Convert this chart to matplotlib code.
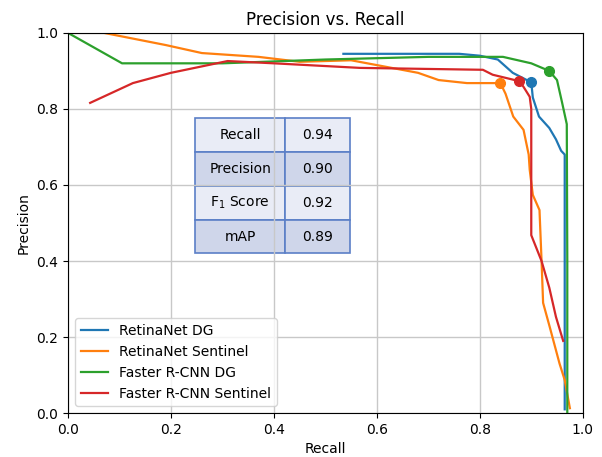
import matplotlib
matplotlib.use("Agg")
import matplotlib.pyplot as plt

# curve points (recall, precision)
retina_dg_r = [0.535, 0.76, 0.80, 0.835, 0.864, 0.90, 0.903, 0.915, 0.935, 0.948, 0.958, 0.965, 0.965, 0.965]
retina_dg_p = [0.945, 0.945, 0.94, 0.93, 0.895, 0.87, 0.83, 0.78, 0.75, 0.72, 0.69, 0.68, 0.3, 0.01]

retina_sen_r = [0.0, 0.07, 0.19, 0.26, 0.37, 0.45, 0.55, 0.68, 0.72, 0.775, 0.84, 0.85, 0.865, 0.885, 0.895, 0.897, 0.903, 0.916, 0.92, 0.923, 0.936, 0.955, 0.965, 0.975]
retina_sen_p = [1.0, 1.0, 0.968, 0.947, 0.937, 0.924, 0.928, 0.895, 0.876, 0.868, 0.868, 0.84, 0.78, 0.745, 0.68, 0.64, 0.574, 0.534, 0.40, 0.29, 0.226, 0.13, 0.087, 0.013]

frcnn_dg_r = [0.0, 0.105, 0.30, 0.50, 0.70, 0.845, 0.90, 0.935, 0.95, 0.96, 0.969, 0.97, 0.97]
frcnn_dg_p = [1.0, 0.92, 0.92, 0.93, 0.937, 0.937, 0.92, 0.90, 0.876, 0.816, 0.76, 0.40, 0.0]

frcnn_sen_r = [0.043, 0.126, 0.20, 0.31, 0.40, 0.567, 0.806, 0.825, 0.877, 0.885, 0.897, 0.90, 0.90, 0.92, 0.935, 0.948, 0.962]
frcnn_sen_p = [0.816, 0.868, 0.895, 0.926, 0.92, 0.908, 0.903, 0.89, 0.873, 0.858, 0.832, 0.80, 0.468, 0.40, 0.33, 0.253, 0.19]

labels = ["RetinaNet DG", "RetinaNet Sentinel", "Faster R-CNN DG", "Faster R-CNN Sentinel"]
colors = ["#1f77b4", "#ff7f0e", "#2ca02c", "#d62728"]
marker_r = [0.90, 0.84, 0.935, 0.877]
marker_p = [0.87, 0.868, 0.90, 0.873]

metric_names = ["Recall", "Precision", "F$_1$ Score", "mAP"]
metric_values = ["0.94", "0.90", "0.92", "0.89"]

fig = plt.figure(figsize=(6.02, 4.57), dpi=100)
ax = fig.add_axes([0.113, 0.096, 0.855, 0.832])

curves = [(retina_dg_r, retina_dg_p), (retina_sen_r, retina_sen_p),
          (frcnn_dg_r, frcnn_dg_p), (frcnn_sen_r, frcnn_sen_p)]
for i, (r, p) in enumerate(curves):
    ax.plot(r, p, color=colors[i], lw=1.6, label=labels[i])
for i in range(4):
    ax.plot(marker_r[i], marker_p[i], "o", color=colors[i], ms=7)

ax.set_xlim(0, 1)
ax.set_ylim(0, 1)
ax.grid(True, color="#c8c8c8", lw=1)
ax.set_xlabel("Recall", fontsize=10)
ax.set_ylabel("Precision", fontsize=10)
ax.set_title("Precision vs. Recall", fontsize=12)
ax.legend(loc="lower left", fontsize=10, framealpha=0.8)

light = "#e9ecf6"
dark = "#cfd6ea"
cell_colours = []
for i in range(len(metric_names)):
    c = light if i % 2 == 0 else dark
    cell_colours.append([c, c])
tbl = ax.table(cellText=[[metric_names[i], metric_values[i]] for i in range(len(metric_names))],
               cellColours=cell_colours, colWidths=[0.58, 0.42],
               cellLoc="center", bbox=[0.247, 0.42, 0.301, 0.356])
tbl.auto_set_font_size(False)
tbl.set_fontsize(10)
for key, cell in tbl.get_celld().items():
    cell.set_edgecolor("#5b7fc7")
    cell.set_linewidth(1.2)

fig.savefig("out.png", dpi=100)
